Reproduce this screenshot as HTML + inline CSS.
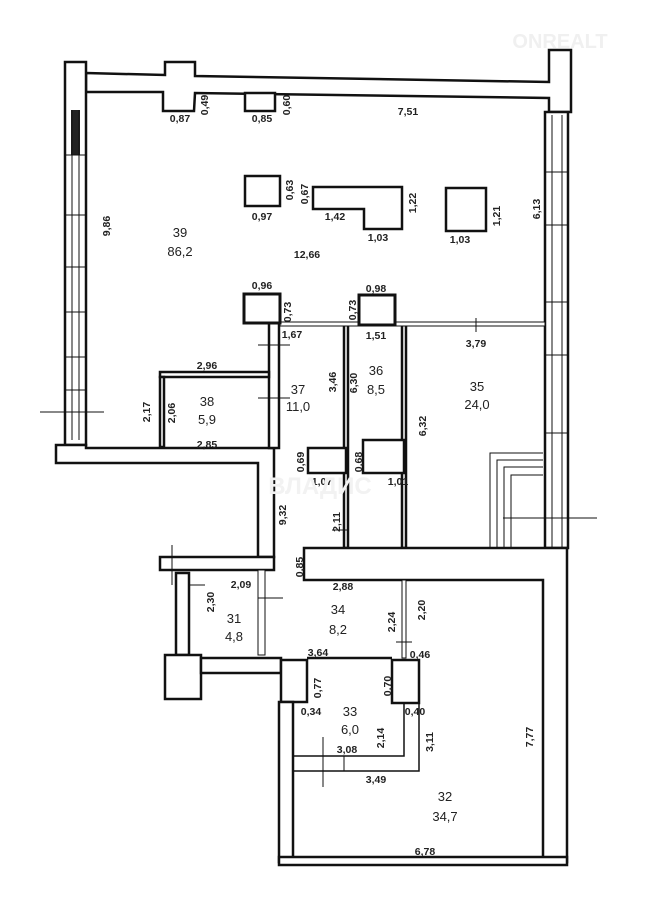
<!DOCTYPE html>
<html><head><meta charset="utf-8"><style>
html,body{margin:0;padding:0;background:#fff}
svg text{font-family:"Liberation Sans",sans-serif;font-size:10.5px;font-weight:bold;fill:#222;text-anchor:middle}
.b{font-size:13px;font-weight:normal}
</style></head><body>
<svg width="648" height="910" viewBox="0 0 648 910" xmlns="http://www.w3.org/2000/svg">
<g fill="#fff" stroke="#111" stroke-width="2.5">
<polygon points="86,73 165,75 165,62 195,62 195,76 549,82 549,50 571,50 571,112 549,112 549,98 195,93 194,111 163,111 163,92 86,92"/>
<rect x="245" y="93" width="30" height="18"/>
<rect x="65" y="62" width="21" height="383"/>
<rect x="545" y="112" width="23" height="436"/>
<polygon points="56,445 86,445 86,448 274,448 274,557 258,557 258,463 56,463"/>
<rect x="160" y="557" width="114" height="13"/>
<rect x="269" y="323" width="10" height="125"/>
<rect x="160" y="372" width="109" height="5"/>
<rect x="160" y="377" width="4" height="70"/>
<rect x="344" y="325" width="4" height="223"/>
<rect x="402" y="325" width="4" height="223"/>
<rect x="280" y="322" width="265" height="4" stroke-width="1"/>
<rect x="244" y="294" width="36" height="29" stroke-width="3"/>
<rect x="359" y="295" width="36" height="30" stroke-width="3"/>
<rect x="308" y="448" width="38" height="25"/>
<rect x="363" y="440" width="41" height="33"/>
<rect x="245" y="176" width="35" height="30"/>
<polygon points="313,187 402,187 402,229 364,229 364,209 313,209"/>
<rect x="446" y="188" width="40" height="43"/>
<polygon points="304,548 567,548 567,862 543,862 543,580 304,580"/>
<rect x="176" y="573" width="13" height="82"/>
<rect x="258" y="570" width="7" height="85" stroke-width="1"/>
<rect x="165" y="655" width="36" height="44"/>
<rect x="201" y="658" width="80" height="15"/>
<rect x="281" y="660" width="26" height="42"/>
<rect x="392" y="660" width="27" height="43"/>
<line x1="307" y1="658" x2="392" y2="658"/>
<rect x="279" y="702" width="14" height="160"/>
<rect x="279" y="857" width="288" height="8"/>
<rect x="402" y="580" width="4" height="78" stroke-width="1"/>
<polyline points="404,703 404,756 293,756" fill="none" stroke-width="1.5"/>
<polyline points="419,703 419,771 293,771" fill="none" stroke-width="1.5"/>
<line x1="344" y1="756" x2="344" y2="771" stroke-width="1"/>
</g>
<rect x="71" y="110" width="9" height="45" fill="#222"/>
<g stroke="#111" stroke-width="1" fill="none">
<path d="M72,110V440M79,110V440M65,155H86M65,215H86M65,267H86M65,312H86M65,357H86M65,390H86"/>
<path d="M552,115V548M562,115V548M545,172H568M545,225H568M545,302H568M545,355H568M545,433H568"/>
<path d="M490,548V453H543M497,548V460H543M504,548V467H543M511,548V475H543"/>
<path d="M40,412H104M258,345H290M258,398H290M258,598H283M332,530H348M396,642H412M323,737V787M503,518H597M476,318V332"/>
<path d="M172,545V585M190,585H205" />
</g>
<text x="180" y="122">0,87</text><text transform="translate(208,105) rotate(-90)">0,49</text>
<text x="262" y="122">0,85</text><text transform="translate(290,105) rotate(-90)">0,60</text>
<text x="408" y="115">7,51</text>
<text transform="translate(110,226) rotate(-90)">9,86</text>
<text class="b" x="180" y="237">39</text><text class="b" x="180" y="256">86,2</text>
<text x="307" y="258">12,66</text>
<text x="262" y="220">0,97</text><text transform="translate(293,190) rotate(-90)">0,63</text>
<text transform="translate(308,194) rotate(-90)">0,67</text>
<text x="335" y="220">1,42</text><text transform="translate(416,203) rotate(-90)">1,22</text>
<text x="378" y="241">1,03</text><text x="460" y="243">1,03</text>
<text transform="translate(500,216) rotate(-90)">1,21</text><text transform="translate(540,209) rotate(-90)">6,13</text>
<text x="262" y="289">0,96</text><text transform="translate(291,312) rotate(-90)">0,73</text>
<text transform="translate(356,310) rotate(-90)">0,73</text><text x="376" y="292">0,98</text>
<text x="292" y="338">1,67</text><text x="376" y="339">1,51</text><text x="476" y="347">3,79</text>
<text x="207" y="369">2,96</text>
<text class="b" x="298" y="394">37</text><text class="b" x="298" y="411">11,0</text>
<text transform="translate(336,382) rotate(-90)">3,46</text><text transform="translate(357,383) rotate(-90)">6,30</text>
<text class="b" x="376" y="375">36</text><text class="b" x="376" y="394">8,5</text>
<text class="b" x="477" y="391">35</text><text class="b" x="477" y="409">24,0</text>
<text class="b" x="207" y="406">38</text><text class="b" x="207" y="424">5,9</text>
<text transform="translate(150,412) rotate(-90)">2,17</text><text transform="translate(175,413) rotate(-90)">2,06</text>
<text x="207" y="448">2,85</text><text transform="translate(426,426) rotate(-90)">6,32</text>
<text transform="translate(304,462) rotate(-90)">0,69</text><text transform="translate(362,462) rotate(-90)">0,68</text>
<text x="322" y="485">1,07</text><text x="398" y="485">1,01</text>
<text transform="translate(286,515) rotate(-90)">9,32</text><text transform="translate(340,522) rotate(-90)">2,11</text>
<text transform="translate(303,567) rotate(-90)">0,85</text><text x="343" y="590">2,88</text>
<text x="241" y="588">2,09</text><text transform="translate(214,602) rotate(-90)">2,30</text>
<text class="b" x="234" y="623">31</text><text class="b" x="234" y="641">4,8</text>
<text class="b" x="338" y="614">34</text><text class="b" x="338" y="634">8,2</text>
<text transform="translate(395,622) rotate(-90)">2,24</text><text transform="translate(425,610) rotate(-90)">2,20</text>
<text x="420" y="658">0,46</text><text x="318" y="656">3,64</text>
<text transform="translate(321,688) rotate(-90)">0,77</text><text transform="translate(391,686) rotate(-90)">0,70</text>
<text x="311" y="715">0,34</text><text x="415" y="715">0,40</text>
<text class="b" x="350" y="716">33</text><text class="b" x="350" y="734">6,0</text>
<text transform="translate(384,738) rotate(-90)">2,14</text><text transform="translate(433,742) rotate(-90)">3,11</text>
<text x="347" y="753">3,08</text><text x="376" y="783">3,49</text>
<text transform="translate(533,737) rotate(-90)">7,77</text>
<text class="b" x="445" y="801">32</text><text class="b" x="445" y="821">34,7</text>
<text x="425" y="855">6,78</text>
<text x="560" y="48" style="font-size:20px;fill:#f0f0f0">ONREALT</text>
<text x="320" y="494" style="font-size:24px;fill:#f2f2f2">ВЛАДИС</text>
</svg>
</body></html>
